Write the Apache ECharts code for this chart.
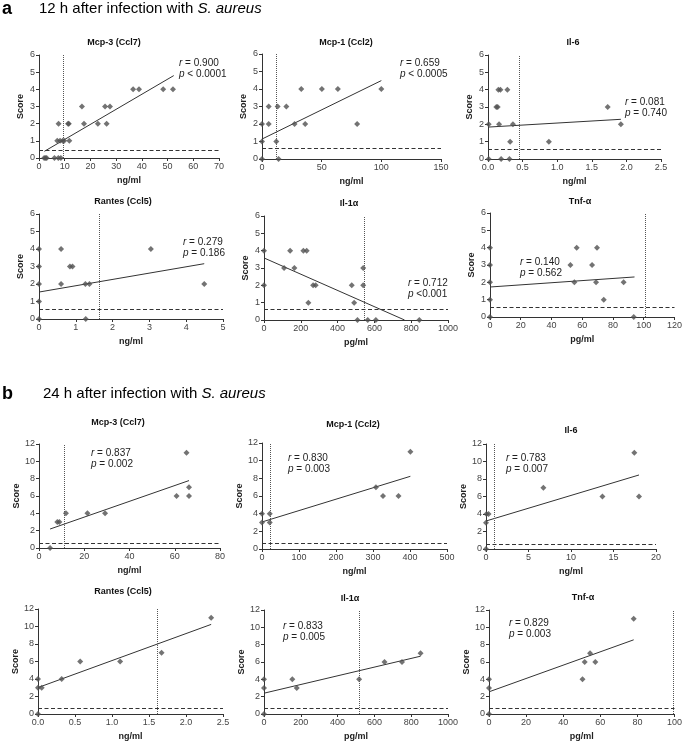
<!DOCTYPE html>
<html>
<head>
<meta charset="utf-8">
<script src="https://cdn.jsdelivr.net/npm/echarts@6/dist/echarts.min.js"></script>
<style>
  html, body { margin: 0; padding: 0; background: #fff; }
  #chart { width: 685px; height: 742px; }
</style>
</head>
<body>
<div id="chart"></div>
<script>
// ---------- data ----------
// 12 h after infection: [concentration, score]
const mcp3_12h = [[2, 0], [2.5, 0], [3, 0], [6, 0], [7.5, 0], [8.5, 0], [7.1, 1], [8.2, 1], [9.2, 1], [9.8, 1], [11.8, 1],
  [7.6, 2], [11.3, 2], [11.6, 2], [17.5, 2], [22.9, 2], [26.3, 2], [16.7, 3], [25.7, 3], [27.6, 3],
  [36.6, 4], [38.9, 4], [48.3, 4], [52.1, 4]]
const mcp1_12h = [[0, 0], [13.9, 0], [0, 1], [12, 1], [0, 2], [5.6, 2], [27.3, 2], [36.2, 2], [79.7, 2],
  [5.6, 3], [13.1, 3], [20.4, 3], [32.9, 4], [50.2, 4], [63.6, 4], [100, 4]]
const il6_12h = [[0.01, 0], [0.19, 0], [0.31, 0], [0.32, 1], [0.88, 1], [0.01, 2], [0.16, 2], [0.36, 2], [1.92, 2],
  [0.12, 3], [0.14, 3], [1.73, 3], [0.15, 4], [0.18, 4], [0.28, 4]]
const rantes_12h = [[0, 0], [1.27, 0], [0, 1], [0, 2], [0.6, 2], [1.26, 2], [1.37, 2], [4.49, 2],
  [0, 3], [0.84, 3], [0.91, 3], [0, 4], [0.6, 4], [3.04, 4]]
const il1a_12h = [[508, 0], [564, 0], [608, 0], [844, 0], [241, 1], [490, 1], [0, 2], [267, 2], [281, 2], [477, 2], [539, 2],
  [109, 3], [165, 3], [539, 3], [0, 4], [142, 4], [214, 4], [232, 4]]
const tnfa_12h = [[0, 0], [93.5, 0], [0, 1], [74, 1], [0, 2], [54.9, 2], [69, 2], [86.9, 2],
  [0, 3], [52.3, 3], [66.4, 3], [0, 4], [56.4, 4], [69.6, 4]]

// 24 h after infection
const mcp3_24h = [[4.9, 0], [8.1, 3], [9, 3], [11.9, 4], [21.4, 4], [29.2, 4], [60.8, 6], [65.2, 11], [66.3, 7], [66.3, 6]]
const mcp1_24h = [[0, 3], [21, 3], [0, 4], [21, 4], [308, 7], [327, 6], [369, 6], [401, 11]]
const il6_24h = [[0, 0], [0, 3], [0.05, 4], [0.3, 4], [6.75, 7], [13.7, 6], [18, 6], [17.45, 11]]
const rantes_24h = [[0, 0], [0, 3], [0.05, 3], [0, 4], [0.32, 4], [0.57, 6], [1.11, 6], [1.67, 7], [2.34, 11]]
const il1a_24h = [[0, 0], [0, 3], [178, 3], [0, 4], [154, 4], [517, 4], [655, 6], [750, 6], [851, 7]]
const tnfa_24h = [[0, 0], [0, 3], [0, 4], [50.4, 4], [51.6, 6], [54.5, 7], [57.3, 6], [78, 11]]

// regression lines (end points as drawn)
const fit12h = [[[2.1, 0.39], [52.4, 4.8]], [[0, 1.14], [100, 4.48]], [[0, 1.84], [1.92, 2.29]],
  [[0, 1.54], [4.49, 3.16]], [[0, 3.58], [764, 0]], [[0, 1.73], [94, 2.31]]]
const fit24h = [[[4.9, 2.19], [66.3, 7.78]], [[0, 3.06], [401, 8.23]], [[0, 3.2], [18, 8.46]],
  [[0, 3.02], [2.34, 10.24]], [[0, 2.4], [851, 6.67]], [[0, 2.56], [78, 8.56]]]

// cut-off lines: vertical dotted (concentration) and horizontal dashed (score)
const cutX12h = [9.4, 12, 0.45, 1.63, 546, 100.8]
const cutY12h = [0.45, 0.59, 0.54, 0.55, 0.61, 0.56]
const cutX24h = [11, 21, 0.98, 1.61, 519, 99.6]
const cutY24h = [0.58, 0.64, 0.57, 0.65, 0.69, 0.61]

const cytokines = ['Mcp-3 (Ccl7)', 'Mcp-1 (Ccl2)', 'Il-6', 'Rantes (Ccl5)', 'Il-1α', 'Tnf-α']
const units = ['ng/ml', 'ng/ml', 'ng/ml', 'ng/ml', 'pg/ml', 'pg/ml']
const xMax12h = [70, 150, 2.5, 5, 1000, 120]
const xStep12h = [10, 50, 0.5, 1, 200, 20]
const xMax24h = [80, 500, 20, 2.5, 1000, 100]
const xStep24h = [20, 100, 5, 0.5, 200, 20]
const stats12h = [['0.900', '< 0.0001'], ['0.659', '< 0.0005'], ['0.081', '= 0.740'],
  ['0.279', '= 0.186'], ['0.712', '<0.001'], ['0.140', '= 0.562']]
const stats24h = [['0.837', '= 0.002'], ['0.830', '= 0.003'], ['0.783', '= 0.007'],
  null, ['0.833', '= 0.005'], ['0.829', '= 0.003']]

// ---------- layout ----------
const FONT = 'Liberation Sans, Arial, sans-serif'
// left, top, width, height of each plot area
const boxes = [
  [39, 55, 180, 103], [262, 54, 179, 105], [488, 55, 173, 104],
  [39, 214, 184, 105], [264, 216, 184, 104], [490, 213, 187, 104],
  [39, 444, 181, 104], [262, 443, 185, 106], [486, 444, 170, 105],
  [38, 609, 185, 105], [264, 610, 184, 105], [489, 610, 187, 104]]
// centre of each panel title
const titlePos = [[114, 43], [346, 43], [573, 43], [123, 202], [349, 204], [580, 202],
  [118, 423], [353, 425], [571, 431], [123, 592], [350, 599], [583, 598]]
// top-left of r / p text
const statPos = [[179, 58], [400, 58], [625, 97], [183, 237], [408, 278], [520, 257],
  [91, 448], [288, 453], [506, 453], null, [283, 621], [509, 618]]

let chart = echarts.init(document.getElementById('chart'))

let grids = [], xAxes = [], yAxes = [], series = [], graphics = []

//header texts
graphics.push(
  { type: 'text', left: 2, top: 0, style: { text: 'a', font: 'bold 18px ' + FONT, fill: '#000' } },
  { type: 'text', left: 39, top: 1, style: { text: '12 h after infection with {i|S. aureus}', font: '15px ' + FONT, fill: '#000',
    rich: { i: { fontStyle: 'italic', fontSize: 15, fontFamily: FONT, fill: '#000' } } } },
  { type: 'text', left: 2, top: 385, style: { text: 'b', font: 'bold 18px ' + FONT, fill: '#000' } },
  { type: 'text', left: 43, top: 386, style: { text: '24 h after infection with {i|S. aureus}', font: '15px ' + FONT, fill: '#000',
    rich: { i: { fontStyle: 'italic', fontSize: 15, fontFamily: FONT, fill: '#000' } } } }
)

const sets = [
  { pts: [mcp3_12h, mcp1_12h, il6_12h, rantes_12h, il1a_12h, tnfa_12h], fit: fit12h, cx: cutX12h, cy: cutY12h,
    xMax: xMax12h, xStep: xStep12h, yMax: 6, yStep: 1, stats: stats12h },
  { pts: [mcp3_24h, mcp1_24h, il6_24h, rantes_24h, il1a_24h, tnfa_24h], fit: fit24h, cx: cutX24h, cy: cutY24h,
    xMax: xMax24h, xStep: xStep24h, yMax: 12, yStep: 2, stats: stats24h },
]

const axisColor = '#333'

sets.forEach((s, si) => {
  for (let k = 0; k < 6; k++) {
    let i = si * 6 + k
    let b = boxes[i]
    grids.push({ left: b[0], top: b[1], width: b[2], height: b[3] })
    let step = s.xStep[k]
    xAxes.push({
      gridIndex: i, type: 'value', min: 0, max: s.xMax[k], interval: step,
      name: units[k], nameLocation: 'middle', nameGap: 18,
      nameTextStyle: { fontSize: 9, fontWeight: 'bold', color: '#222', fontFamily: FONT },
      axisLine: { show: true, onZero: false, lineStyle: { color: axisColor, width: 1 } },
      axisTick: { show: true, length: 3, lineStyle: { color: axisColor } },
      axisLabel: { fontSize: 9, color: '#444', margin: 4, fontFamily: FONT,
        formatter: v => step < 1 ? v.toFixed(1) : String(v) },
      splitLine: { show: false },
    })
    yAxes.push({
      gridIndex: i, type: 'value', min: 0, max: s.yMax, interval: s.yStep,
      name: 'Score', nameLocation: 'middle', nameGap: si === 0 ? 14 : 17, nameRotate: 90,
      nameTextStyle: { fontSize: 9, fontWeight: 'bold', color: '#222', fontFamily: FONT },
      axisLine: { show: true, onZero: false, lineStyle: { color: axisColor, width: 1 } },
      axisTick: { show: true, length: 3, lineStyle: { color: axisColor } },
      axisLabel: { fontSize: 9, color: '#444', margin: 4, fontFamily: FONT },
      splitLine: { show: false },
    })
    //regression line
    series.push({
      type: 'line', xAxisIndex: i, yAxisIndex: i, data: s.fit[k], symbol: 'none', silent: true,
      lineStyle: { color: '#333', width: 1 }, z: 2, animation: false,
    })
    //points + cut-off lines
    series.push({
      type: 'scatter', xAxisIndex: i, yAxisIndex: i, data: s.pts[k], symbol: 'diamond', symbolSize: 6,
      itemStyle: { color: '#505050' }, z: 3, animation: false,
      markLine: {
        silent: true, symbol: ['none', 'none'], label: { show: false }, animation: false,
        data: [
          { xAxis: s.cx[k], lineStyle: { type: [1, 1], color: '#555', width: 1 } },
          { yAxis: s.cy[k], lineStyle: { type: [4, 2.5], color: '#333', width: 1 } },
        ],
      },
    })
    //panel title
    graphics.push({
      type: 'text', x: titlePos[i][0], y: titlePos[i][1],
      style: { text: cytokines[k], font: 'bold 9px ' + FONT, fill: '#111', textAlign: 'center', textVerticalAlign: 'middle' },
    })
    //r and p values
    if (s.stats[k]) {
      graphics.push({
        type: 'text', x: statPos[i][0], y: statPos[i][1],
        style: {
          text: '{i|r} = ' + s.stats[k][0] + '\n{i|p} ' + s.stats[k][1],
          font: '10px ' + FONT, fill: '#222', lineHeight: 11,
          rich: { i: { fontStyle: 'italic', fontSize: 10, fontFamily: FONT, fill: '#222', lineHeight: 11 } },
        },
      })
    }
  }
})

chart.setOption({
  animation: false,
  grid: grids,
  xAxis: xAxes,
  yAxis: yAxes,
  series: series,
  graphic: graphics,
})
</script>
</body>
</html>
